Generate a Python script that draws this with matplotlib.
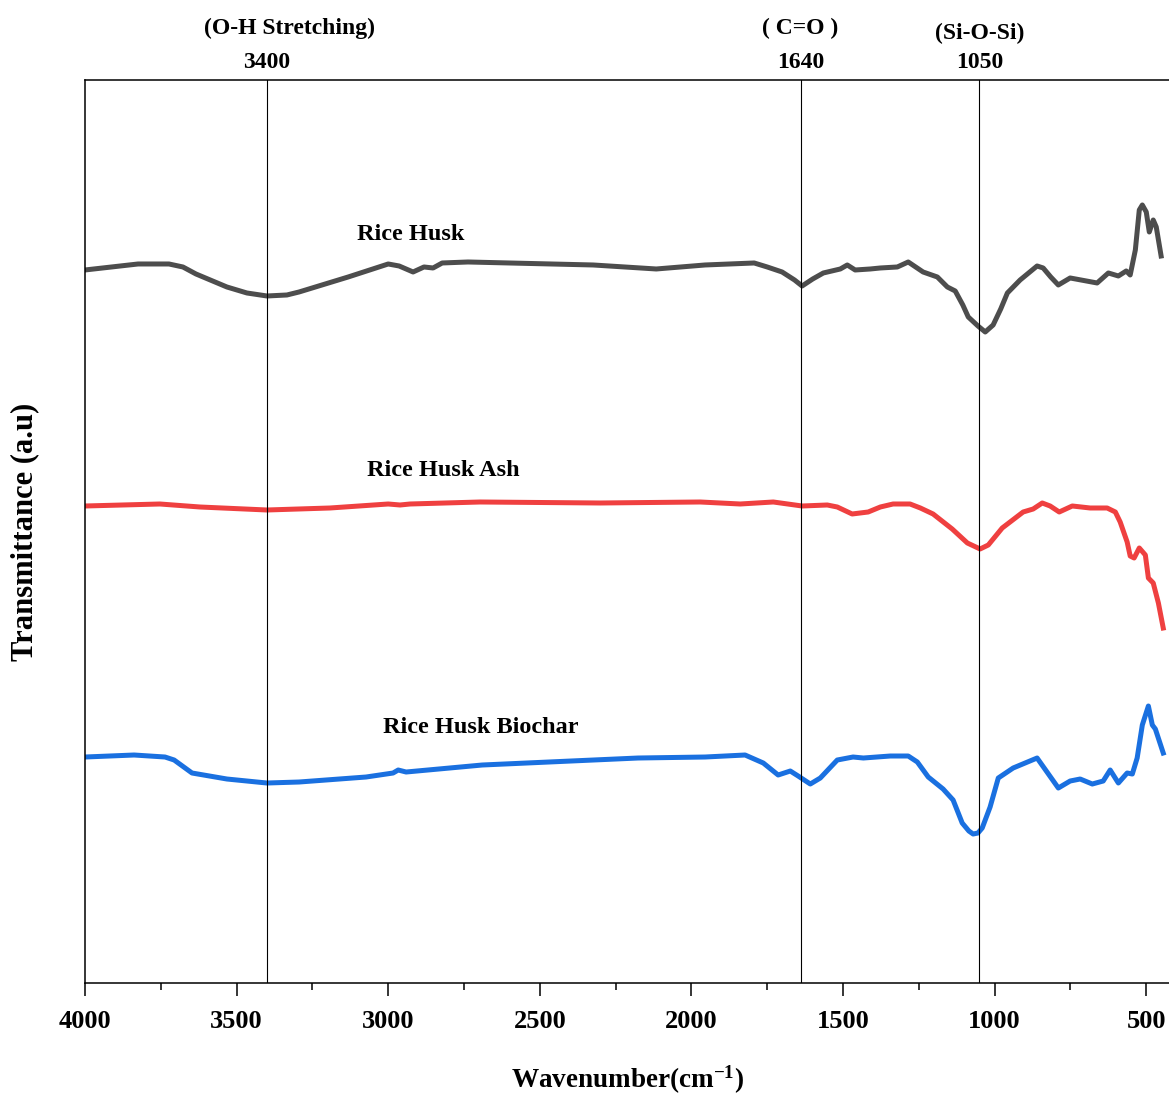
import numpy as np
import matplotlib
matplotlib.use('Agg')
import matplotlib.pyplot as plt

plt.rcParams['font.family'] = ['Liberation Serif', 'DejaVu Serif']
plt.rcParams['font.weight'] = 'bold'
plt.rcParams['mathtext.fontset'] = 'custom'
plt.rcParams['mathtext.rm'] = 'Liberation Serif:bold'
plt.rcParams['mathtext.bf'] = 'Liberation Serif:bold'
plt.rcParams['mathtext.default'] = 'bf'

# espectros FTIR (número de onda en cm-1, transmitancia en u.a.)
wn_husk = [4000, 3825, 3723, 3677, 3634, 3532, 3466, 3400, 3334, 3294, 3132, 3000, 2964, 2918,
           2882, 2852, 2822, 2737, 2601, 2324, 2116, 1955, 1793, 1750, 1701, 1660, 1635,
           1600, 1565, 1509, 1486, 1460, 1410, 1377, 1321, 1285, 1236, 1189, 1156, 1130,
           1105, 1087, 1055, 1031, 1005, 980, 958, 916, 860, 840, 815, 790, 751, 662, 625, 592, 566, 553,
           536, 523, 513, 500, 490, 477, 467, 451]
t_husk = [71.3, 71.9, 71.9, 71.6, 70.9, 69.6, 69.0, 68.7, 68.8, 69.1, 70.6, 71.9, 71.7, 71.1,
          71.6, 71.5, 72.0, 72.1, 72.0, 71.8, 71.4, 71.8, 72.0, 71.6, 71.1, 70.3, 69.7,
          70.4, 71.0, 71.4, 71.8, 71.3, 71.4, 71.5, 71.6, 72.1, 71.1, 70.6, 69.6, 69.2,
          67.8, 66.6, 65.7, 65.1, 65.8, 67.4, 69.0, 70.3, 71.7, 71.5, 70.6, 69.8, 70.5, 70.0, 71.0, 70.7, 71.2, 70.8,
          73.3, 77.3, 77.8, 77.1, 75.1, 76.3, 75.6, 72.7]

wn_ash = [4000, 3753, 3621, 3400, 3192, 3000, 2961, 2928, 2697, 2301, 1971, 1839,
          1730, 1635, 1552, 1519, 1470, 1417, 1377, 1335, 1279, 1245, 1203, 1140,
          1090, 1048, 1021, 975, 906, 873, 843, 817, 787, 744, 685, 629, 602, 586,
          563, 553, 540, 523, 503, 493, 477, 460, 444]
t_ash = [47.7, 47.9, 47.6, 47.3, 47.5, 47.9, 47.8, 47.9, 48.1, 48.0, 48.1, 47.9,
         48.1, 47.7, 47.8, 47.6, 46.9, 47.1, 47.6, 47.9, 47.9, 47.5, 46.9, 45.4,
         44.0, 43.4, 43.8, 45.5, 47.1, 47.4, 48.0, 47.7, 47.1, 47.7, 47.5, 47.5, 47.1, 46.1,
         44.1, 42.7, 42.5, 43.5, 42.8, 40.5, 40.0, 38.0, 35.5]

wn_biochar = [4000, 3838, 3736, 3706, 3647, 3532, 3400, 3294, 3073, 2984, 2967, 2941,
              2690, 2397, 2176, 1955, 1823, 1763, 1714, 1674, 1648, 1608, 1575, 1519,
              1467, 1433, 1344, 1285, 1255, 1219, 1170, 1137, 1107, 1085, 1071, 1055, 1041, 1015,
              988, 939, 860, 790, 751, 718, 678, 642, 619, 592, 563, 546, 530, 513,
              493, 480, 470, 444]
t_biochar = [22.6, 22.8, 22.6, 22.3, 21.0, 20.4, 20.0, 20.1, 20.6, 21.0, 21.3, 21.1,
             21.8, 22.2, 22.5, 22.6, 22.8, 22.0, 20.8, 21.2, 20.7, 19.9, 20.5, 22.3,
             22.6, 22.5, 22.7, 22.7, 22.1, 20.6, 19.4, 18.3, 16.0, 15.2, 14.9, 15.0, 15.5, 17.6,
             20.5, 21.5, 22.5, 19.5, 20.2, 20.4, 19.9, 20.2, 21.3, 20.0, 21.0, 20.9, 22.5, 25.8,
             27.7, 25.8, 25.4, 23.0]

picos = [3400, 1640, 1050]
picos_txt = ['(O-H Stretching)', '( C=O )', '(Si-O-Si)']
picos_txt_x = [3327, 1640, 1050]
picos_dy = [1.0576, 1.0576, 1.052]

fig = plt.figure(figsize=(11.69, 10.97), dpi=100)
ax = fig.add_axes([0.0727, 0.1039, 0.9273, 0.8232])

ax.plot(wn_husk, t_husk, color='#4d4d4d', lw=3.6, solid_joinstyle='round')
ax.plot(wn_ash, t_ash, color='#ef4040', lw=3.6, solid_joinstyle='round')
ax.plot(wn_biochar, t_biochar, color='#1a70e0', lw=3.6, solid_joinstyle='round')

for p in picos:
    ax.axvline(p, color='black', lw=0.8)

trans = ax.get_xaxis_transform()
for p, txt, tx, dy in zip(picos, picos_txt, picos_txt_x, picos_dy):
    ax.text(p, 1.019, str(p), transform=trans, ha='center', va='center',
            fontsize=17, fontweight='bold')
    ax.text(tx, dy, txt, transform=trans, ha='center', va='center',
            fontsize=17, fontweight='bold')

ax.text(2925, 74.8, 'Rice Husk', ha='center', va='center', fontsize=17.5, fontweight='bold')
ax.text(2819, 51.2, 'Rice Husk Ash', ha='center', va='center', fontsize=17.5, fontweight='bold')
ax.text(2694, 25.6, 'Rice Husk Biochar', ha='center', va='center', fontsize=17.5, fontweight='bold')

ax.set_xlim(4000, 425)
ax.set_ylim(0, 90.3)
ax.set_xticks([4000, 3500, 3000, 2500, 2000, 1500, 1000, 500])
ax.set_xticks(np.arange(3750, 400, -500), minor=True)
ax.set_yticks([])
ax.tick_params(axis='x', which='major', direction='out', length=9.5, width=1.1,
               pad=10, labelsize=19)
ax.tick_params(axis='x', which='minor', direction='out', length=5, width=1.1)
for lbl in ax.get_xticklabels():
    lbl.set_fontweight('bold')
ax.spines['right'].set_visible(False)
for s in ['left', 'top', 'bottom']:
    ax.spines[s].set_linewidth(1.1)

ax.set_xlabel('Wavenumber(cm$^{-1}$)', fontsize=19.5, fontweight='bold', labelpad=22)
ax.set_ylabel('Transmittance (a.u)', fontsize=22, fontweight='bold', labelpad=33)

fig.savefig('out.png', dpi=100)
